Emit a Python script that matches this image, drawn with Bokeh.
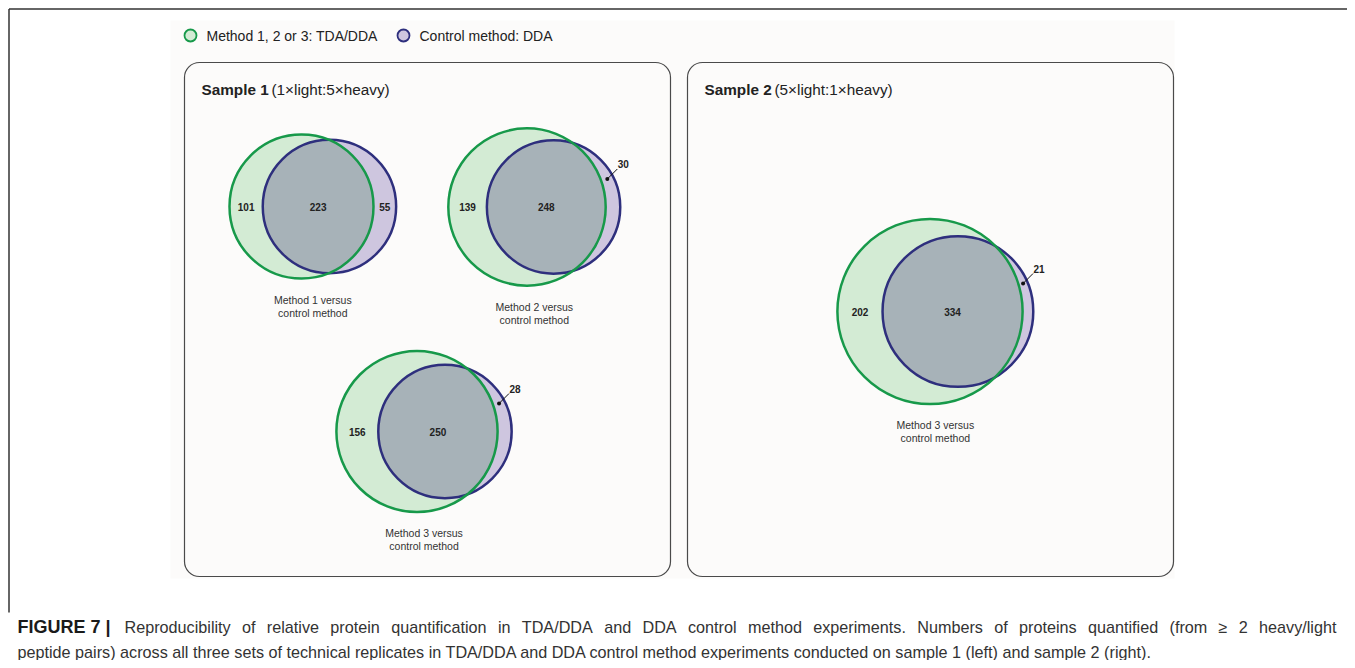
import numpy as np
from bokeh.plotting import figure
from bokeh.models import Range1d, BoxAnnotation
from bokeh.core.properties import value
from bokeh.embed import file_html
from bokeh.resources import INLINE

# ---------------- data ----------------
comparisons = ["Method 1", "Method 2", "Method 3", "Method 3"]
tda_only = [101, 139, 156, 202]      # Method 1/2/3 (TDA/DDA) only
shared = [223, 248, 250, 334]        # quantified by both
dda_only = [55, 30, 28, 21]          # control method (DDA) only
legend_labels = ["Method 1, 2 or 3: TDA/DDA", "Control method: DDA"]
panel_titles = ["Sample 1", "Sample 2"]
panel_subtitles = ["(1×light:5×heavy)", "(5×light:1×heavy)"]
caption_bold = "FIGURE 7 |"
caption_lines = [
    "Reproducibility of relative protein quantification in TDA/DDA and DDA control method experiments. Numbers of proteins quantified (from ≥ 2 heavy/light",
    "peptide pairs) across all three sets of technical replicates in TDA/DDA and DDA control method experiments conducted on sample 1 (left) and sample 2 (right).",
]

# ---------------- layout / style ----------------
FONT = value("Liberation Sans")
GREEN_LINE = "#17994a"
GREEN_FILL = "#d3ebd4"
PURPLE_LINE = "#2e2f7d"
PURPLE_FILL = "#cec6df"
OVERLAP_FILL = "#a7b2b8"
TEXT = "#222222"
SCALE = 4.0  # px per sqrt(count)
venn_anchor = [(301, 206), (526.5, 206.5), (416.5, 431), (929.5, 311)]
panel_left = [184, 687]
panel_right = [670, 1173]

W, H = 1347, 660
p = figure(width=W, height=H, x_range=Range1d(0, W), y_range=Range1d(H, 0),
           output_backend="svg", toolbar_location=None, x_axis_type=None, y_axis_type=None,
           min_border=0, outline_line_color=None, background_fill_color="white",
           border_fill_color="white")
p.xgrid.visible = False
p.ygrid.visible = False

# image background and panels
p.add_layout(BoxAnnotation(left=170, right=1174, top=20, bottom=578, fill_color="#fcfbfa",
                           fill_alpha=1, line_color=None, level="underlay"))
for l, r in zip(panel_left, panel_right):
    p.add_layout(BoxAnnotation(left=l, right=r, top=62, bottom=576, border_radius=15,
                               fill_color="#fcfbfa", fill_alpha=1, line_color="#4a4a4a",
                               line_alpha=1, line_width=1.2, level="underlay"))

# frame lines
p.line([8.5, 8.5], [8.5, 612], line_color="#333333", line_width=1.5)
p.line([8.5, 1360], [8.5, 8.5], line_color="#333333", line_width=1.5)

# legend
lx = [190, 403]
for x, lab, fc, lc in zip(lx, legend_labels, [GREEN_FILL, PURPLE_FILL], [GREEN_LINE, PURPLE_LINE]):
    p.scatter([x], [35], size=12, fill_color=fc, line_color=lc, line_width=1.8)
    p.text([x + 16], [35], text=[lab], text_font=FONT, text_font_size="14px",
           text_baseline="middle", text_align="left", text_color=TEXT)

# panel titles
for l, t, s in zip(panel_left, panel_titles, panel_subtitles):
    p.text([l + 17], [89], text=[t], text_font=FONT, text_font_size="15.3px", text_font_style="bold",
           text_baseline="middle", text_color=TEXT)
    p.text([l + 87], [89], text=[s], text_font=FONT, text_font_size="15.3px",
           text_baseline="middle", text_color=TEXT)


def lens_area(r1, r2, d):
    a1 = np.arccos(np.clip((d * d + r1 * r1 - r2 * r2) / (2 * d * r1), -1, 1))
    a2 = np.arccos(np.clip((d * d + r2 * r2 - r1 * r1) / (2 * d * r2), -1, 1))
    k = (-d + r1 + r2) * (d + r1 - r2) * (d - r1 + r2) * (d + r1 + r2)
    return r1 * r1 * a1 + r2 * r2 * a2 - 0.5 * np.sqrt(max(k, 0))


for i in range(len(comparisons)):
    n1 = tda_only[i] + shared[i]
    n2 = dda_only[i] + shared[i]
    r1 = SCALE * np.sqrt(n1)
    r2 = SCALE * np.sqrt(n2)
    target = np.pi * SCALE ** 2 * shared[i]
    lo, hi = abs(r1 - r2) + 1e-6, r1 + r2 - 1e-6
    for _ in range(80):
        mid = 0.5 * (lo + hi)
        if lens_area(r1, r2, mid) > target:
            lo = mid
        else:
            hi = mid
    d = 0.5 * (lo + hi)
    x1, cy = venn_anchor[i]
    x2 = x1 + d

    # fills
    p.circle([x1], [cy], radius=r1, fill_color=GREEN_FILL, line_color=None)
    p.circle([x2], [cy], radius=r2, fill_color=PURPLE_FILL, line_color=None)
    a = (d * d + r1 * r1 - r2 * r2) / (2 * d)
    h = np.sqrt(r1 * r1 - a * a)
    t1 = np.arctan2(h, a)
    t2 = np.arctan2(h, d - a)
    ang1 = np.linspace(-t1, t1, 120)
    ang2 = np.linspace(np.pi - t2, np.pi + t2, 120)
    xs = np.concatenate([x1 + r1 * np.cos(ang1), x2 + r2 * np.cos(ang2)])
    ys = np.concatenate([cy + r1 * np.sin(ang1), cy + r2 * np.sin(ang2)])
    p.patch(xs, ys, fill_color=OVERLAP_FILL, line_color=None)
    # outlines
    p.circle([x2], [cy], radius=r2, fill_color=None, line_color=PURPLE_LINE, line_width=2.5)
    p.circle([x1], [cy], radius=r1, fill_color=None, line_color=GREEN_LINE, line_width=2.5)

    # region labels
    lab_kw = dict(text_font=FONT, text_font_size="10px", text_font_style="bold",
                  text_baseline="middle", text_align="center", text_color=TEXT)
    p.text([0.5 * (x1 - r1 + x2 - r2)], [cy], text=[str(tda_only[i])], **lab_kw)
    p.text([0.5 * (x2 - r2 + x1 + r1)], [cy], text=[str(shared[i])], **lab_kw)
    crescent = (x2 + r2) - (x1 + r1)
    if crescent > 18:
        p.text([0.5 * (x1 + r1 + x2 + r2)], [cy], text=[str(dda_only[i])], **lab_kw)
    else:
        dy = 28
        ex1 = x1 + np.sqrt(r1 * r1 - dy * dy)
        ex2 = x2 + np.sqrt(r2 * r2 - dy * dy)
        dx_ = 0.5 * (ex1 + ex2)
        dy_ = cy - dy
        p.scatter([dx_], [dy_], size=4, fill_color="#111111", line_color=None)
        p.line([dx_, dx_ + 10], [dy_, dy_ - 10], line_color="#111111", line_width=1)
        p.text([dx_ + 16], [dy_ - 15], text=[str(dda_only[i])], **lab_kw)

    # caption under diagram
    ccx = 0.5 * (x1 - r1 + x2 + r2)
    cap_kw = dict(text_font=FONT, text_font_size="10.5px", text_baseline="middle",
                  text_align="center", text_color="#333333")
    p.text([ccx], [cy + r1 + 21], text=[comparisons[i] + " versus"], **cap_kw)
    p.text([ccx], [cy + r1 + 34], text=["control method"], **cap_kw)

# figure caption (first line justified like the reference paragraph)
AW = {' ': 278, 'a': 556, 'b': 556, 'c': 500, 'd': 556, 'e': 556, 'f': 278, 'g': 556,
      'h': 556, 'i': 222, 'j': 222, 'k': 500, 'l': 222, 'm': 833, 'n': 556, 'o': 556,
      'p': 556, 'q': 556, 'r': 333, 's': 500, 't': 278, 'u': 556, 'v': 500, 'w': 722,
      'x': 500, 'y': 500, 'z': 500, 'A': 667, 'D': 722, 'N': 722, 'R': 722, 'T': 611,
      '/': 278, '.': 278, ',': 278, '(': 333, ')': 333, '≥': 549}
CAP_SIZE = 16.2


def text_w(s):
    return sum(AW.get(c, 556) for c in s) / 1000.0 * CAP_SIZE


p.text([17], [626], text=[caption_bold], text_font=FONT, text_font_size="18px",
       text_font_style="bold", text_baseline="middle", text_color="#1a1a1a")
words = caption_lines[0].split(" ")
x_start, x_end = 124, 1336
ww = [text_w(w) for w in words]
gap = (x_end - x_start - sum(ww)) / (len(words) - 1)
wx = []
cur = x_start
for w_ in ww:
    wx.append(cur)
    cur += w_ + gap
p.text(wx, [626] * len(words), text=words, text_font=FONT, text_font_size=f"{CAP_SIZE}px",
       text_baseline="middle", text_color="#333333")
p.text([17], [651], text=[caption_lines[1]], text_font=FONT, text_font_size=f"{CAP_SIZE}px",
       text_baseline="middle", text_color="#333333")

open("out.html", "w").write(file_html(p, INLINE))
